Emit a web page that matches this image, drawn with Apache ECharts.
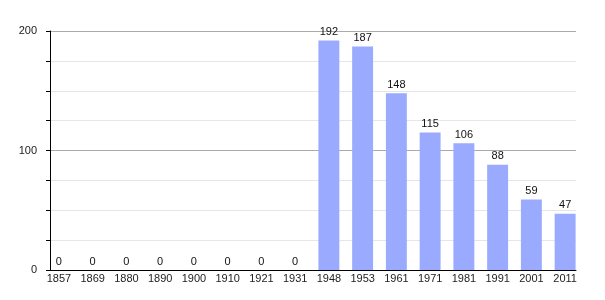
<!DOCTYPE html>
<html><head><meta charset="utf-8">
<script src="https://cdn.jsdelivr.net/npm/echarts@6/dist/echarts.min.js"></script>
<style>html,body{margin:0;padding:0;background:#fff}#c{width:605px;height:300px}</style>
</head><body><div id="c"></div>
<script>
const categories = ['1857','1869','1880','1890','1900','1910','1921','1931','1948','1953','1961','1971','1981','1991','2001','2011'];
const population = [0,0,0,0,0,0,0,0,192,187,148,115,106,88,59,47];
const yTickLabels = [0,100,200];

const font = 'Liberation Sans, Arial, sans-serif';
const chart = echarts.init(document.getElementById('c'), null, {renderer:'canvas'});
chart.setOption({
  animation:false,
  grid:[
    {left:50,right:29,top:31,bottom:30,containLabel:false},
    {left:42,right:23,top:31,bottom:30,containLabel:false}
  ],
  xAxis:[
    {gridIndex:0,type:'category',data:categories,
     axisLine:{lineStyle:{color:'#000',width:1}},axisTick:{show:false},axisLabel:{show:false}},
    {gridIndex:1,type:'category',data:categories,
     axisLine:{show:false},axisTick:{show:false},
     axisLabel:{color:'#222',fontSize:11,fontFamily:font,margin:3,interval:0}}
  ],
  yAxis:[
    {gridIndex:0,type:'value',min:0,max:200,interval:25,
     axisLine:{show:true,lineStyle:{color:'#000',width:1}},
     axisTick:{show:true,length:4,lineStyle:{color:'#000'}},
     axisLabel:{color:'#222',fontSize:11,fontFamily:font,margin:13,
       formatter:v=>yTickLabels.includes(v)?String(v):''},
     splitLine:{show:true,lineStyle:{color:['#aaaaaa','#e6e6e6','#e6e6e6','#e6e6e6'],width:1}}},
    {gridIndex:1,type:'value',min:0,max:200,interval:25,show:false}
  ],
  series:[{
    type:'bar', xAxisIndex:1, yAxisIndex:1, data:population, barWidth:'62%',
    itemStyle:{color:'#99aaff'},
    label:{show:true,position:'top',distance:3,color:'#111',fontSize:11,fontFamily:font}
  }]
});
</script></body></html>
